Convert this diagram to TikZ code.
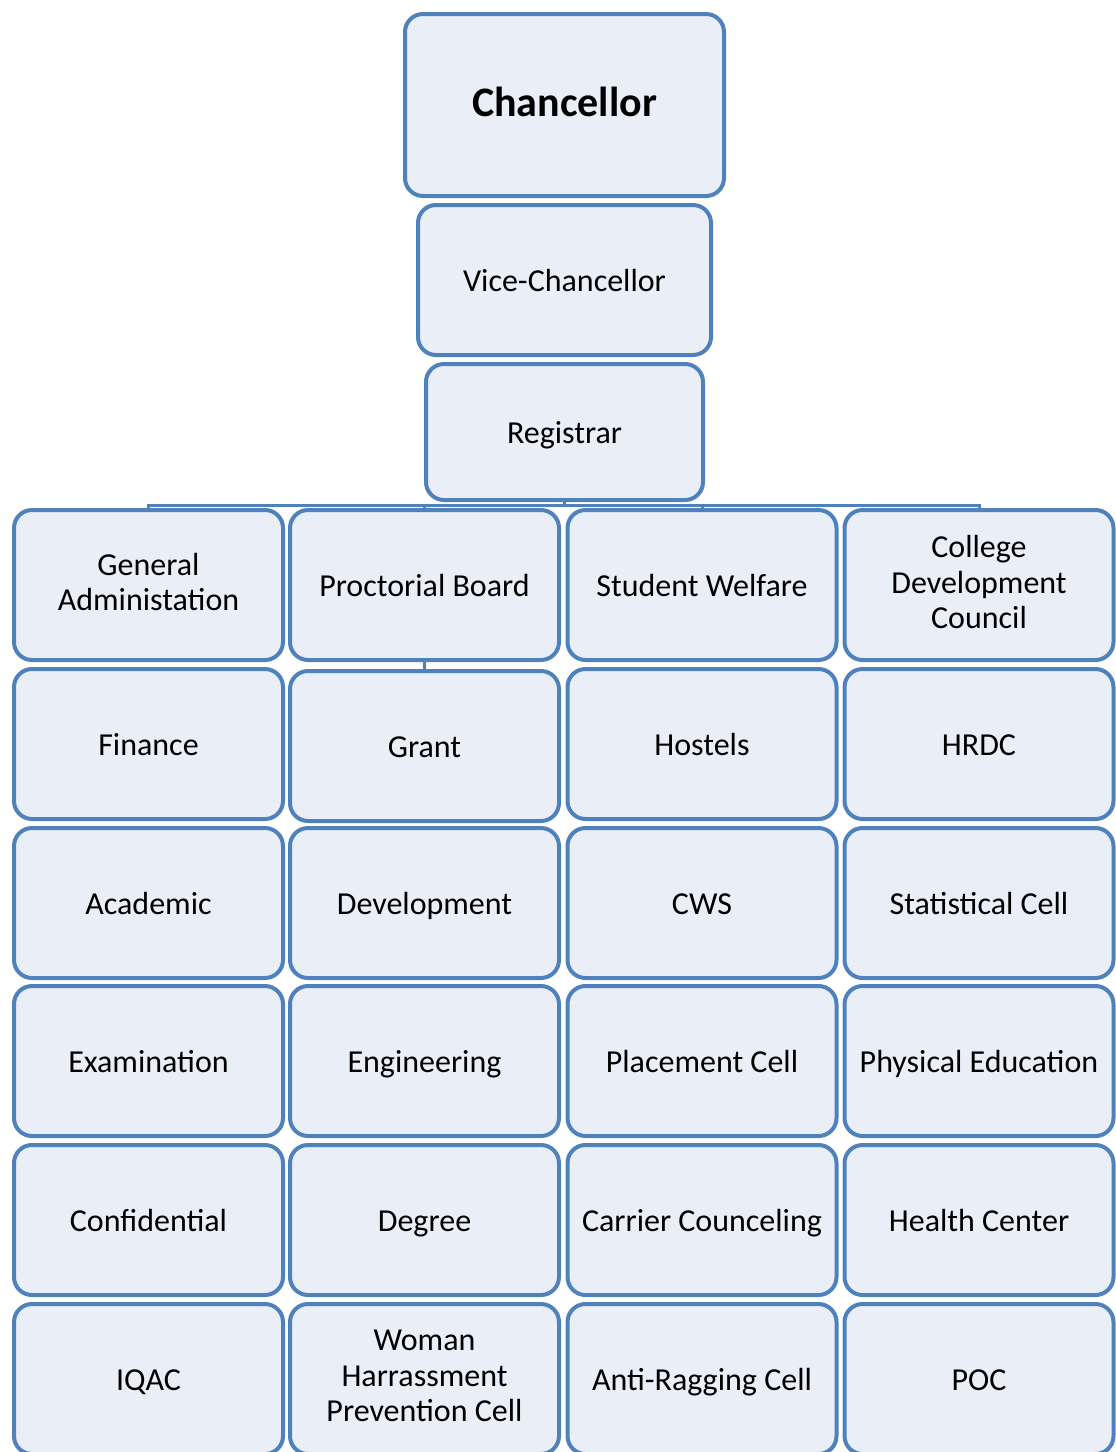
\documentclass[tikz,border=0pt]{standalone}
\usepackage{fontspec}
\setmainfont{Carlito}
\usetikzlibrary{positioning,backgrounds}
\definecolor{OfficeBlue}{RGB}{79,129,189}
\definecolor{PaleBlue}{RGB}{234,239,247}
\newcommand{\unitbox}[4]{%
  \node[unit] (#1) at (#2,#3) {#4};}

\begin{document}
\begin{tikzpicture}[x=0.5pt,y=-0.5pt,
  box/.style={draw=OfficeBlue,fill=PaleBlue,line width=2pt,rounded corners=9pt,
    align=center,inner sep=0pt,font=\fontsize{16}{17.75}\selectfont,
    execute at begin node=\rule{0pt}{14pt},
    execute at end node=\rule[-3pt]{0pt}{3pt}},
  unit/.style={box,minimum width=134.5pt,minimum height=75pt},
  link/.style={draw=OfficeBlue,line width=1.5pt}]
  \useasboundingbox (0,0) rectangle (1115,1452);
  % top of the chain
  \node[box,minimum width=159.5pt,minimum height=91pt,
    font=\fontsize{21}{25}\selectfont\bfseries] (chan) at (564.5,105) {Chancellor};
  \node[box,minimum width=146.5pt,minimum height=75pt] (vc) at (564.5,280) {Vice-Chancellor};
  \node[box,minimum width=138.5pt,minimum height=68pt] (reg) at (564.5,432) {Registrar};
  % first row
  \unitbox{ga}{148.5}{585}{General\\Administation}
  \unitbox{pb}{424.5}{585}{Proctorial Board}
  \unitbox{sw}{702}{585}{Student Welfare}
  \unitbox{cdc}{979}{585}{College\\Development\\Council}
  % second row
  \unitbox{fin}{148.5}{744}{Finance}
  \unitbox{grant}{424.5}{746}{Grant}
  \unitbox{host}{702}{744}{Hostels}
  \unitbox{hrdc}{979}{744}{HRDC}
  % third row
  \unitbox{acad}{148.5}{903}{Academic}
  \unitbox{dev}{424.5}{903}{Development}
  \unitbox{cws}{702}{903}{CWS}
  \unitbox{stat}{979}{903}{Statistical Cell}
  % fourth row
  \unitbox{exam}{148.5}{1061}{Examination}
  \unitbox{engg}{424.5}{1061}{Engineering}
  \unitbox{place}{702}{1061}{Placement Cell}
  \unitbox{phy}{979}{1061}{Physical Education}
  % fifth row
  \unitbox{conf}{148.5}{1220}{Confidential}
  \unitbox{deg}{424.5}{1220}{Degree}
  \unitbox{carr}{702}{1220}{Carrier Counceling}
  \unitbox{hc}{979}{1220}{Health Center}
  % sixth row
  \unitbox{iqac}{148.5}{1379}{IQAC}
  \unitbox{whpc}{424.5}{1379}{Woman\\Harrassment\\Prevention Cell}
  \unitbox{arc}{702}{1379}{Anti-Ragging Cell}
  \unitbox{poc}{979}{1379}{POC}
  % connectors behind the boxes
  \begin{scope}[on background layer]
    \coordinate (bar) at (564.5,505);
    \draw[link] (reg) -- (bar);
    \draw[link] (bar) -| (ga);
    \draw[link] (bar) -| (pb);
    \draw[link] (bar) -| (sw);
    \draw[link] (bar) -| (cdc);
    \draw[link] (pb) -- (grant);
  \end{scope}
\end{tikzpicture}
\end{document}
